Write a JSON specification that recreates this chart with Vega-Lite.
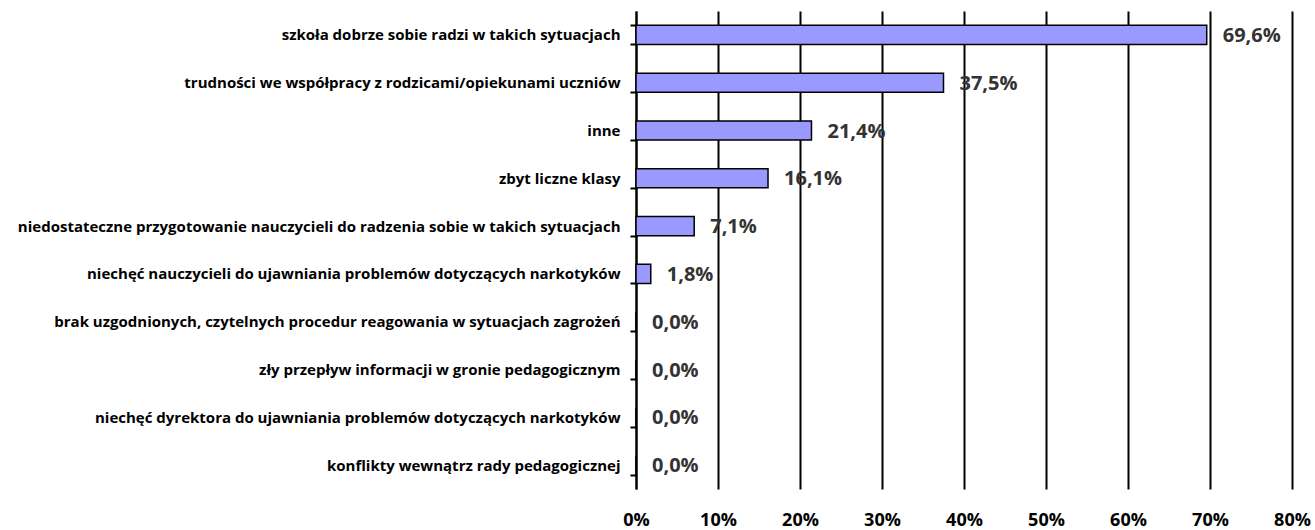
{
  "$schema": "https://vega.github.io/schema/vega-lite/v6.json",
  "autosize": {"type": "none"},
  "padding": {"left": 636, "top": 11, "right": 23, "bottom": 41},
  "width": 656,
  "height": 478,
  "background": "white",
  "config": {
    "locale": {"number": {"decimal": ",", "thousands": " ", "grouping": [3], "currency": ["", " zł"]}},
    "view": {"stroke": null},
    "font": "Open Sans"
  },
  "data": {
    "values": [
      {"kategoria": "szkoła dobrze sobie radzi w takich sytuacjach", "udzial": 0.696},
      {"kategoria": "trudności we współpracy z rodzicami/opiekunami uczniów", "udzial": 0.375},
      {"kategoria": "inne", "udzial": 0.214},
      {"kategoria": "zbyt liczne klasy", "udzial": 0.161},
      {"kategoria": "niedostateczne przygotowanie nauczycieli do radzenia sobie w takich sytuacjach", "udzial": 0.071},
      {"kategoria": "niechęć nauczycieli do ujawniania problemów dotyczących narkotyków", "udzial": 0.018},
      {"kategoria": "brak uzgodnionych, czytelnych procedur reagowania w sytuacjach zagrożeń", "udzial": 0.0},
      {"kategoria": "zły przepływ informacji w gronie pedagogicznym", "udzial": 0.0},
      {"kategoria": "niechęć dyrektora do ujawniania problemów dotyczących narkotyków", "udzial": 0.0},
      {"kategoria": "konflikty wewnątrz rady pedagogicznej", "udzial": 0.0}
    ]
  },
  "encoding": {
    "y": {
      "field": "kategoria",
      "type": "nominal",
      "sort": null,
      "scale": {"paddingInner": 0.6, "paddingOuter": 0.3},
      "axis": {
        "title": null,
        "domainColor": "black",
        "domainWidth": 2,
        "tickColor": "black",
        "tickWidth": 2,
        "tickSize": 6,
        "tickBand": "extent",
        "labelFont": "Open Sans",
        "labelFontWeight": "bold",
        "labelFontSize": 15,
        "labelColor": "black",
        "labelPadding": 10,
        "labelLimit": 700
      }
    },
    "x": {
      "field": "udzial",
      "type": "quantitative",
      "scale": {"domain": [0, 0.8], "nice": false},
      "axis": {
        "title": null,
        "format": ".0%",
        "values": [0, 0.1, 0.2, 0.3, 0.4, 0.5, 0.6, 0.7, 0.8],
        "domain": false,
        "ticks": false,
        "grid": true,
        "gridColor": "black",
        "gridWidth": 2,
        "gridOpacity": 1,
        "labelFlush": false,
        "labelFont": "Open Sans",
        "labelFontWeight": "bold",
        "labelFontSize": 18,
        "labelColor": "black",
        "labelPadding": 22
      }
    }
  },
  "layer": [
    {
      "mark": {"type": "bar", "color": "#9999FF", "stroke": "black", "strokeWidth": 1.5}
    },
    {
      "mark": {"type": "text", "align": "left", "baseline": "middle", "dx": 16, "dy": 1, "fontSize": 20, "fontWeight": "bold", "color": "#333333", "font": "Open Sans"},
      "encoding": {"text": {"field": "udzial", "type": "quantitative", "format": ".1%"}}
    }
  ]
}
